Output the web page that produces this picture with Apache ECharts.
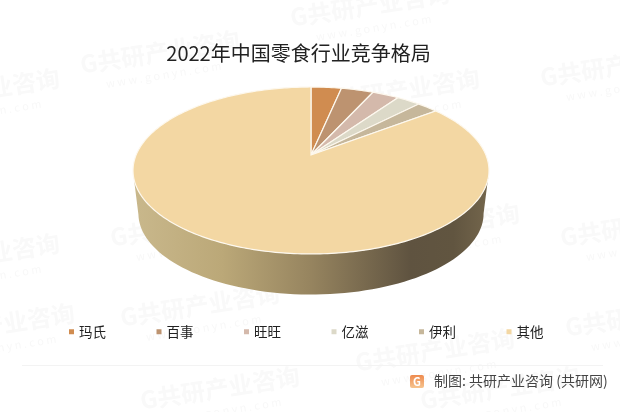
<!DOCTYPE html>
<html><head><meta charset="utf-8">
<style>html,body{margin:0;padding:0;background:#fff}#c{width:620px;height:412px}</style>
<script src="https://cdn.jsdelivr.net/npm/echarts@6/dist/echarts.min.js"></script>
</head><body><div id="c"></div>
<script>
const categories = ['玛氏','百事','旺旺','亿滋','伊利','其他'];
const shares = [3.3,3.5,2.9,2.6,2.3,85.4];
const colors = ['#d08c50','#bd9370','#d4b9ab','#dcd9c8','#c6b79b','#f3d7a3'];
const titleText = '2022年中国零食行业竞争格局';
const sourceText = '制图: 共研产业咨询 (共研网)';
const watermarkText = 'G共研产业咨询';
const watermarkUrl = 'w w w . g o n y n . c o m';

const font = '"Noto Sans CJK SC","Noto Sans",sans-serif';
const total = shares.reduce((a,b)=>a+b,0);
// perspective disc
const cx=311, cy=155, X=174.9, Y=80.6, P=0.1856;
const lower={cx:311, cy:198.5, X:169.6, Y:78.2};
function proj(deg,d){
  d=d||{cx,cy,X,Y};
  const t=deg*Math.PI/180,u=Math.sin(t),v=-Math.cos(t),w=1-P*v;
  return [d.cx+d.X*u/w,d.cy+d.Y*v/w];
}
const sideGrad=new echarts.graphic.LinearGradient(133,0,489,0,[
  {offset:0,color:'#c9b88c'},{offset:.25,color:'#bba878'},{offset:.5,color:'#96845f'},
  {offset:.78,color:'#5f5340'},{offset:.9,color:'#615540'},{offset:1,color:'#74664c'}],true);
function sidePoints(){
  const pts=[],low=[],e=Math.asin(P)*180/Math.PI;
  for(let d=90+e;d<=270-e+.01;d+=2){pts.push(proj(d));low.push(proj(d,lower));}
  return pts.concat(low.reverse());
}
let cum=0;
const spans=shares.map(v=>{const a=cum/total*360;cum+=v;return [a,cum/total*360];});
const series=categories.map((name,i)=>({
  type:'custom',name,coordinateSystem:'none',silent:true,
  itemStyle:{color:colors[i]},
  data:[[shares[i]]],
  renderItem(){
    const [a,b]=spans[i],pts=[[cx,cy]];
    for(let d=a;d<b;d+=1)pts.push(proj(d));
    pts.push(proj(b));
    const kids=[];
    if(i===categories.length-1)kids.push({type:'polygon',shape:{points:sidePoints()},style:{fill:sideGrad}});
    kids.push({type:'polygon',shape:{points:pts},style:{fill:colors[i],stroke:'#fdf8ee',lineWidth:1.2,lineJoin:'miter'}});
    return {type:'group',children:kids};
  }
}));
// faint watermarks: centre positions
const marks=[[160,52],[400,90],[-20,90],[620,65],[370,5],[190,225],[440,225],[-20,255],[640,225],[200,305],[-5,325],[435,350],[645,315],[220,388],[500,388]];
const graphic=[];
marks.forEach(([x,y])=>{
  graphic.push({type:'group',x,y,rotation:9*Math.PI/180,silent:true,z:-1,children:[
    {type:'text',style:{text:watermarkText,x:0,y:0,align:'center',verticalAlign:'middle',font:'bold 24px '+font,fill:'#f9f9f9'}},
    {type:'text',style:{text:watermarkUrl,x:0,y:23,align:'center',verticalAlign:'middle',font:'11px '+font,fill:'#f8f8f8'}}
  ]});
});
graphic.push({type:'rect',shape:{x:22,y:365,width:581,height:1},style:{fill:'#f3f3f3'},silent:true});
graphic.push({type:'rect',shape:{x:410,y:375,width:14,height:13,r:2},style:{fill:new echarts.graphic.LinearGradient(0,0,0,1,[{offset:0,color:'#ee8a4e'},{offset:1,color:'#f6c48f'}])},silent:true});
graphic.push({type:'text',style:{text:'G',x:417,y:382,align:'center',verticalAlign:'middle',font:'bold 11px '+font,fill:'#fff'},silent:true});
graphic.push({type:'text',style:{text:sourceText,x:434,y:381,verticalAlign:'middle',font:'14px '+font,fill:'#444'},silent:true});

const chart=echarts.init(document.getElementById('c'),null,{renderer:'canvas'});
chart.setOption({
  animation:false,backgroundColor:'#fff',
  title:{text:titleText,left:298.5,top:53,textAlign:'center',textVerticalAlign:'middle',padding:0,
    textStyle:{fontFamily:font,fontSize:20,fontWeight:'normal',color:'#222'}},
  legend:{data:categories,left:69,top:325,padding:0,icon:'rect',itemWidth:5,itemHeight:5,itemGap:50.5,
    selectedMode:false,textStyle:{fontFamily:font,fontSize:13.5,color:'#222'}},
  graphic,series
});
</script></body></html>
